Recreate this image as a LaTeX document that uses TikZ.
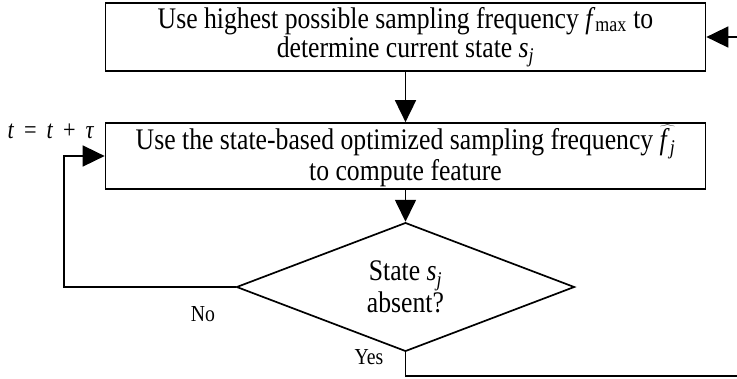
\documentclass[tikz,border=0pt]{standalone}
\usepackage{fontspec}
\setmainfont[FakeStretch=0.86]{Liberation Serif}
\usetikzlibrary{shapes.geometric,arrows.meta}

\newcommand{\ivar}[2]{\textit{#1}\textsubscript{#2}}

\begin{document}
\begin{tikzpicture}[x=1bp,y=1bp,
  font=\fontsize{30}{29}\selectfont,
  flow/.style={line width=1.7bp},
  arr/.style={flow,-{Triangle[length=22bp,width=21bp]}},
  procbox/.style={draw,line width=1.7bp,minimum width=600bp,minimum height=68bp,
    align=center,inner sep=0pt},
  decision/.style={draw,shape=diamond,line width=1.7bp,minimum width=338bp,
    minimum height=94bp,inner sep=0pt,align=center},
  lbl/.style={font=\fontsize{23}{26}\selectfont,inner sep=0pt}]

\useasboundingbox (0,0) rectangle (737,-378);
\clip (0,0) rectangle (737,-378);

% process steps and the decision
\node[procbox] (sense) at (405.5,-37)
  {Use highest possible sampling frequency \ivar{f}{max} to\\
   determine current state \ivar{s}{\textit{j}}};
\node[procbox,minimum height=66bp] (feat) at (405.5,-156)
  {Use the state-based optimized sampling frequency
   $\widehat{\mbox{\ivar{f}{\textit{j}}}}$\\
   to compute feature};
\node[decision] (check) at (405.5,-287)
  {State \ivar{s}{\textit{j}}\\absent?};

% routing points for the two feedback loops
\coordinate (lx) at (64,0);
\coordinate (rx) at (745,0);
\coordinate (by) at (0,-376);

% main flow
\draw[arr] (sense) -- (feat);
\draw[arr] (feat) -- (check);

% "No" loop back to feature computation
\draw[arr] (check.west) -- (check.west -| lx) |- (feat.west);

% "Yes" loop back to state detection
\draw[arr] (check.south) -- (check.south |- by) -- (rx |- by)
  -- (rx |- sense.east) -- (sense.east);

% labels
\node[lbl,font=\fontsize{26}{30}\selectfont] (tstep) at (51,-131)
  {\textit{t}\ \,=\ \,\textit{t}\ \,+\ \,\textit{τ}};
\node[lbl] (nolbl) at (203,-314) {No};
\node[lbl] (yeslbl) at (369,-357) {Yes};
\end{tikzpicture}
\end{document}
